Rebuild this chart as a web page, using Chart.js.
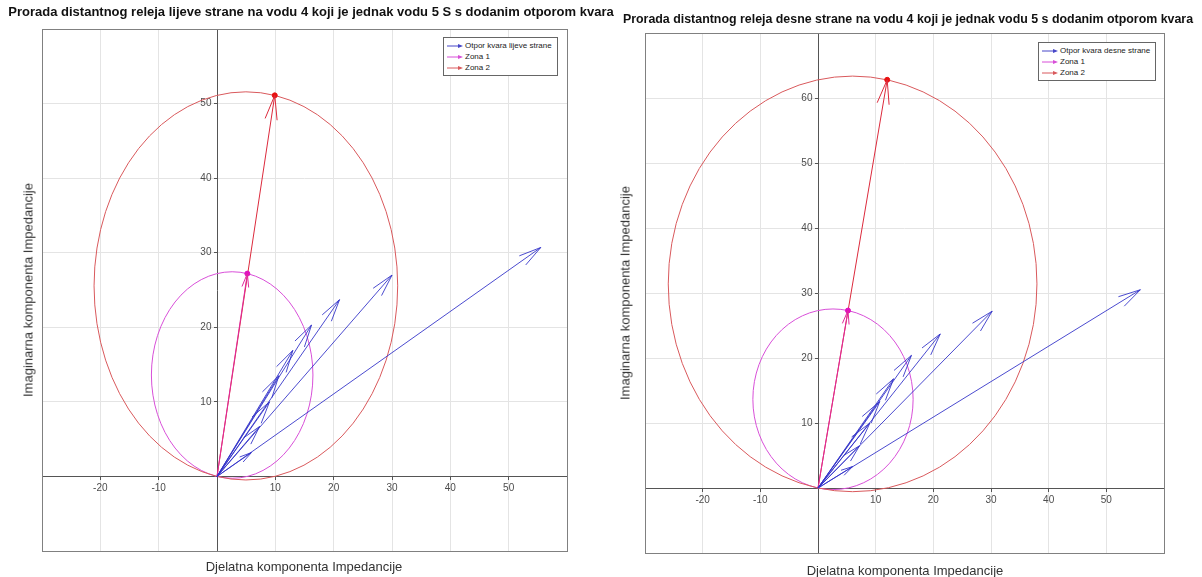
<!DOCTYPE html>
<html>
<head>
<meta charset="utf-8">
<script src="https://cdn.jsdelivr.net/npm/chart.js@4.4.1/dist/chart.umd.min.js"></script>
<style>
  body { margin: 0; width: 1202px; height: 577px; background: #fff; position: relative; overflow: hidden;
         font-family: "Liberation Sans", Arial, sans-serif; }
  .panel { position: absolute; top: 0; width: 601px; height: 577px; }
  .title { position: absolute; white-space: nowrap; font-weight: bold; font-size: 13px; color: #111;
           transform: translateX(-50%); }
  .xlabel { position: absolute; white-space: nowrap; font-size: 13px; color: #333; transform: translate(-50%, -50%); }
  .ylabel { position: absolute; white-space: nowrap; font-size: 13px; color: #333;
            transform: translate(-50%, -50%) rotate(-90deg); }
  .legend { position: absolute; border: 1px solid #666; background: #fff; font-size: 8px; color: #222;
            padding: 2px 5px 2px 3px; line-height: 11px; }
  .legend div { white-space: nowrap; }
  .legend svg { vertical-align: middle; margin-right: 2px; }
</style>
</head>
<body>

<div class="panel" style="left:0">
  <canvas id="leftChart"></canvas>
</div>
<div class="panel" style="left:601px">
  <canvas id="rightChart"></canvas>
</div>

<div class="title" style="left:311px;top:4px">Prorada distantnog releja lijeve strane na vodu 4 koji je jednak vodu 5 S s dodanim otporom kvara</div>
<div class="title" style="left:908px;top:12px;font-size:12.4px">Prorada distantnog releja desne strane na vodu 4 koji je jednak vodu 5 s dodanim otporom kvara</div>
<div class="xlabel" style="left:304px;top:566px">Djelatna komponenta Impedancije</div>
<div class="xlabel" style="left:905px;top:570px">Djelatna komponenta Impedancije</div>
<div class="ylabel" style="left:28px;top:290px">Imaginarna komponenta Impedancije</div>
<div class="ylabel" style="left:625px;top:293px">Imaginarna komponenta Impedancije</div>

<div class="legend" style="left:443px;top:37px">
  <div><svg width="16" height="6"><line x1="0" y1="3" x2="13" y2="3" stroke="#4646c8"/><path d="M11 1 L16 3 L11 5 Z" fill="#4646c8"/></svg>Otpor kvara lijeve strane</div>
  <div><svg width="16" height="6"><line x1="0" y1="3" x2="13" y2="3" stroke="#d84fd8"/><path d="M11 1 L16 3 L11 5 Z" fill="#d84fd8"/></svg>Zona 1</div>
  <div><svg width="16" height="6"><line x1="0" y1="3" x2="13" y2="3" stroke="#d9595c"/><path d="M11 1 L16 3 L11 5 Z" fill="#d9595c"/></svg>Zona 2</div>
</div>
<div class="legend" style="left:1038px;top:42px">
  <div><svg width="16" height="6"><line x1="0" y1="3" x2="13" y2="3" stroke="#4646c8"/><path d="M11 1 L16 3 L11 5 Z" fill="#4646c8"/></svg>Otpor kvara desne strane</div>
  <div><svg width="16" height="6"><line x1="0" y1="3" x2="13" y2="3" stroke="#d84fd8"/><path d="M11 1 L16 3 L11 5 Z" fill="#d84fd8"/></svg>Zona 1</div>
  <div><svg width="16" height="6"><line x1="0" y1="3" x2="13" y2="3" stroke="#d9595c"/><path d="M11 1 L16 3 L11 5 Z" fill="#d9595c"/></svg>Zona 2</div>
</div>

<script>
// fault impedance arrow tips (R, X)
const leftFaultR  = [5.9, 7.3, 9.0, 10.6, 13.0, 16.2, 21.0, 30.0, 55.5];
const leftFaultX  = [3.2, 6.7, 10.0, 13.5, 16.9, 20.3, 23.7, 27.0, 30.7];
const rightFaultR = [6.0, 7.2, 9.0, 10.7, 13.1, 16.2, 21.2, 30.2, 55.9];
const rightFaultX = [3.3, 6.5, 10.0, 13.3, 16.8, 20.4, 23.7, 27.2, 30.5];

// zone reach points (R, X) - the mho circle has origin->reach as diameter
const leftZone1  = [5.2, 27.2];
const leftZone2  = [9.9, 51.1];
const rightZone1 = [5.2, 27.3];
const rightZone2 = [12.0, 62.8];

// tick labels
const xTickValues      = [-20, -10, 10, 20, 30, 40, 50];
const leftYTickValues  = [10, 20, 30, 40, 50];
const rightYTickValues = [10, 20, 30, 40, 50, 60];

const FONT = '"Liberation Sans", Arial, sans-serif';
const BLUE = 'rgba(50, 50, 200, 0.88)';
const GRID = '#e4e4e4';
const AXIS = '#555';

function faultDatasets(re, im) {
  return re.map((r, i) => ({
    data: [{x: 0, y: 0}, {x: r, y: im[i]}],
    borderColor: BLUE,
    borderWidth: 1,
    showLine: true,
    pointRadius: 0,
    arrowHead: 23
  }));
}

function zoneDataset(tip, lineColor, dotColor, circleColor, head) {
  return {
    data: [{x: 0, y: 0}, {x: tip[0], y: tip[1]}],
    borderColor: lineColor,
    borderWidth: 1,
    showLine: true,
    pointRadius: [0, 2.5],
    pointBackgroundColor: dotColor,
    pointBorderColor: dotColor,
    arrowHead: head,
    mhoColor: circleColor
  };
}

// draws mho circles, arrow heads and the axes box
const relayPlugin = {
  id: 'relay',
  beforeDatasetsDraw(chart) {
    const {ctx, chartArea, scales: {x, y}} = chart;
    ctx.save();
    ctx.beginPath();
    ctx.rect(chartArea.left, chartArea.top, chartArea.width, chartArea.height);
    ctx.clip();
    chart.data.datasets.forEach(ds => {
      if (!ds.mhoColor) return;
      const tip = ds.data[1];
      const r = Math.hypot(tip.x, tip.y) / 2;
      const cx = x.getPixelForValue(tip.x / 2);
      const cy = y.getPixelForValue(tip.y / 2);
      const rx = x.getPixelForValue(r) - x.getPixelForValue(0);
      const ry = y.getPixelForValue(0) - y.getPixelForValue(r);
      ctx.beginPath();
      ctx.ellipse(cx, cy, rx, ry, 0, 0, Math.PI * 2);
      ctx.strokeStyle = ds.mhoColor;
      ctx.lineWidth = 1;
      ctx.stroke();
    });
    ctx.restore();
  },
  afterDatasetsDraw(chart) {
    const ctx = chart.ctx;
    ctx.save();
    chart.data.datasets.forEach((ds, i) => {
      if (!ds.arrowHead) return;
      const pts = chart.getDatasetMeta(i).data;
      const a = pts[0], b = pts[1];
      const len = Math.hypot(b.x - a.x, b.y - a.y);
      const h = Math.min(ds.arrowHead, 0.3 * len);
      const ang = Math.atan2(b.y - a.y, b.x - a.x);
      const spread = 14 * Math.PI / 180;
      ctx.beginPath();
      ctx.moveTo(b.x - h * Math.cos(ang - spread), b.y - h * Math.sin(ang - spread));
      ctx.lineTo(b.x, b.y);
      ctx.lineTo(b.x - h * Math.cos(ang + spread), b.y - h * Math.sin(ang + spread));
      ctx.strokeStyle = ds.borderColor;
      ctx.lineWidth = 1;
      ctx.stroke();
    });
    ctx.restore();
  },
  afterDraw(chart) {
    const {ctx, chartArea} = chart;
    ctx.save();
    ctx.strokeStyle = '#808080';
    ctx.lineWidth = 1;
    ctx.strokeRect(Math.round(chartArea.left) + 0.5, Math.round(chartArea.top) + 0.5,
                   Math.round(chartArea.width), Math.round(chartArea.height));
    ctx.restore();
  }
};

function makeChart(id, faultR, faultX, zone1, zone2, yMax, yTicks, padding) {
  const datasets = faultDatasets(faultR, faultX);
  datasets.push(zoneDataset(zone1, '#e0289c', '#e010c0', '#d84fd8', 14));
  datasets.push(zoneDataset(zone2, '#dc2a3c', '#e81010', '#d9595c', 25));

  const tickFont = {size: 10, family: FONT};
  return new Chart(document.getElementById(id), {
    type: 'scatter',
    data: {datasets},
    options: {
      responsive: true,
      maintainAspectRatio: false,
      animation: false,
      layout: {padding},
      plugins: {legend: {display: false}, tooltip: {enabled: false}, title: {display: false}},
      scales: {
        x: {
          type: 'linear', min: -30, max: 60, position: {y: 0},
          afterBuildTicks: s => { s.ticks = xTickValues.map(v => ({value: v})); },
          grid: {color: GRID, tickLength: 3, tickColor: AXIS},
          border: {color: AXIS},
          ticks: {font: tickFont, color: '#4d4d4d', padding: 3, maxRotation: 0, autoSkip: false}
        },
        y: {
          type: 'linear', min: -10, max: yMax, position: {x: 0},
          afterBuildTicks: s => { s.ticks = yTicks.map(v => ({value: v})); },
          grid: {color: GRID, tickLength: 3, tickColor: AXIS},
          border: {color: AXIS},
          // labels of an axis placed at x=0 sit flush on the axis, so pad them with spaces
          ticks: {font: tickFont, color: '#4d4d4d', autoSkip: false, callback: v => v + '  '}
        }
      }
    },
    plugins: [relayPlugin]
  });
}

makeChart('leftChart', leftFaultR, leftFaultX, leftZone1, leftZone2, 60, leftYTickValues,
  {left: 42, right: 34, top: 29, bottom: 26});
makeChart('rightChart', rightFaultR, rightFaultX, rightZone1, rightZone2, 70, rightYTickValues,
  {left: 44, right: 38, top: 33, bottom: 24});
</script>
</body>
</html>
